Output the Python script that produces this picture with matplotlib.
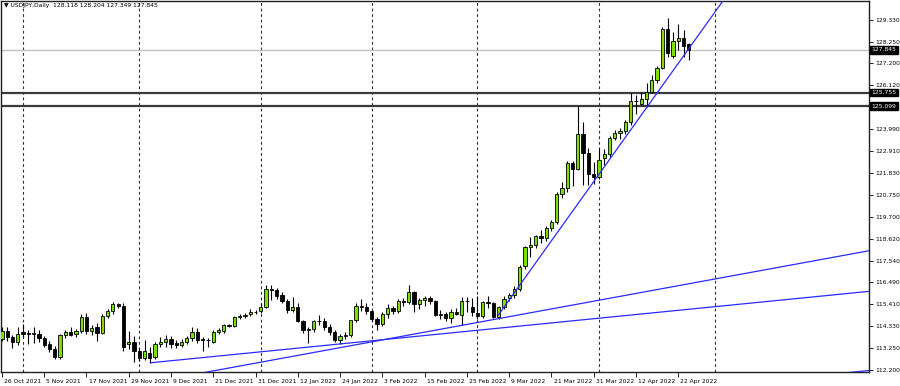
#importing libraries
import numpy as np
import matplotlib
matplotlib.use("Agg")
from matplotlib import pyplot as plt
from matplotlib import transforms

# ---- data : USDJPY daily bars (bar index 0 = 26 Oct 2021)
opens = [113.70, 114.10, 113.80, 113.55, 114.05, 114.00, 113.95, 113.95, 113.75, 113.45,
         113.20, 112.85, 113.90, 114.05, 113.95, 114.10, 114.80, 114.10, 114.30, 114.00,
         114.85, 115.10, 115.40, 115.35, 113.45, 113.55, 113.15, 112.80, 113.05, 112.85,
         113.45, 113.55, 113.70, 113.50, 113.40, 113.55, 113.75, 114.05, 113.70, 113.65,
         113.55, 114.05, 114.10, 114.40, 114.35, 114.80, 114.85, 114.95, 115.05, 115.10,
         115.30, 116.15, 116.10, 115.85, 115.55, 115.15, 115.30, 114.60, 114.15, 114.20,
         114.60, 114.60, 114.30, 114.05, 113.65, 113.85, 113.90, 114.65, 115.35, 115.30,
         115.10, 114.70, 114.45, 114.95, 115.25, 115.10, 115.55, 115.50, 116.00, 115.40,
         115.60, 115.70, 115.55, 114.90, 114.95, 114.75, 115.05, 114.90, 115.55, 115.30,
         115.00, 114.85, 115.50, 115.45, 114.80, 115.30, 115.70, 115.85, 116.15, 117.30,
         118.20, 118.30, 118.75, 118.65, 119.15, 119.45, 120.80, 121.10, 122.30, 122.00,
         123.75, 122.80, 121.80, 121.65, 122.55, 122.75, 123.55, 123.80, 123.90, 124.30,
         125.35, 125.20, 125.45, 125.80, 126.35, 126.95, 128.85, 127.55, 128.30, 128.45,
         128.118]
highs = [114.30, 114.30, 113.90, 114.30, 114.45, 114.15, 114.30, 114.15, 113.85, 113.60,
         113.35, 113.95, 114.15, 114.30, 114.20, 114.95, 115.00, 114.40, 114.50, 114.95,
         115.20, 115.50, 115.45, 115.45, 114.10, 113.85, 113.25, 113.65, 113.30, 113.55,
         113.80, 113.90, 113.85, 113.65, 113.70, 113.85, 114.30, 114.25, 113.80, 113.75,
         114.15, 114.25, 114.45, 114.45, 114.85, 114.95, 115.00, 115.20, 115.15, 115.45,
         116.35, 116.35, 116.20, 116.00, 115.65, 115.75, 115.45, 114.65, 114.30, 114.65,
         114.90, 114.75, 114.45, 114.15, 113.95, 114.05, 114.65, 115.45, 115.65, 115.45,
         115.15, 114.80, 115.05, 115.40, 115.35, 115.65, 115.70, 116.35, 116.05, 115.70,
         115.80, 115.80, 115.60, 115.15, 115.05, 115.20, 115.25, 115.75, 115.75, 115.70,
         115.80, 115.55, 115.80, 115.50, 115.35, 115.80, 115.95, 116.30, 117.35, 118.25,
         118.70, 118.80, 119.05, 119.25, 119.55, 120.90, 121.40, 122.40, 122.40, 125.10,
         124.30, 123.05, 122.35, 123.05, 123.00, 123.65, 123.95, 124.05, 124.40, 125.75,
         125.65, 125.80, 126.25, 126.60, 127.05, 128.95, 129.40, 128.70, 129.10, 128.80,
         128.204]
lows = [113.60, 113.60, 113.25, 113.40, 113.80, 113.45, 113.50, 113.55, 113.30, 113.10,
        112.75, 112.75, 113.75, 113.85, 113.80, 114.00, 113.95, 113.90, 113.60, 113.95,
        114.75, 114.95, 115.25, 113.15, 113.20, 112.60, 112.65, 112.70, 112.55, 112.75,
        113.30, 113.30, 113.25, 113.25, 113.30, 113.45, 113.60, 113.50, 113.15, 113.30,
        113.50, 113.95, 114.00, 114.30, 114.30, 114.70, 114.75, 114.85, 114.95, 115.00,
        115.25, 115.60, 115.65, 115.45, 115.00, 115.05, 114.55, 114.00, 113.50, 114.05,
        114.40, 114.15, 113.90, 113.55, 113.45, 113.70, 113.80, 114.55, 115.10, 114.95,
        114.60, 114.15, 114.35, 114.75, 114.95, 115.00, 115.35, 115.40, 115.05, 115.20,
        115.35, 115.40, 114.85, 114.70, 114.60, 114.50, 114.90, 114.40, 115.05, 114.85,
        114.70, 114.75, 115.25, 114.75, 114.70, 115.20, 115.55, 115.70, 116.05, 117.15,
        117.70, 118.15, 118.40, 118.50, 119.00, 119.35, 120.60, 120.90, 121.20, 121.95,
        121.25, 121.25, 121.30, 121.55, 122.20, 122.60, 123.45, 123.50, 123.75, 124.15,
        124.70, 125.15, 125.05, 125.75, 126.25, 126.90, 127.50, 127.45, 127.85, 127.50,
        127.349]
closes = [114.10, 113.80, 113.55, 113.95, 113.95, 113.95, 114.00, 113.75, 113.40, 113.20,
          112.85, 113.90, 114.05, 113.90, 114.10, 114.80, 114.10, 114.25, 114.00, 114.85,
          115.10, 115.40, 115.35, 113.30, 113.55, 113.15, 112.80, 113.15, 112.80, 113.45,
          113.55, 113.70, 113.45, 113.40, 113.55, 113.75, 114.05, 113.65, 113.65, 113.65,
          114.05, 114.15, 114.40, 114.35, 114.80, 114.85, 114.90, 115.05, 115.05, 115.30,
          116.15, 116.10, 115.80, 115.55, 115.15, 115.30, 114.60, 114.15, 114.20, 114.60,
          114.60, 114.30, 114.05, 113.65, 113.85, 113.90, 114.65, 115.35, 115.30, 115.10,
          114.70, 114.45, 114.95, 115.25, 115.10, 115.55, 115.50, 116.00, 115.40, 115.60,
          115.70, 115.55, 114.90, 114.95, 114.75, 115.05, 114.95, 115.55, 115.55, 115.05,
          114.85, 115.50, 115.45, 114.80, 115.30, 115.65, 115.85, 116.15, 117.25, 118.20,
          118.30, 118.75, 118.65, 119.15, 119.45, 120.80, 121.10, 122.30, 122.00, 123.75,
          122.80, 121.80, 121.65, 122.45, 122.75, 123.55, 123.80, 123.90, 124.30, 125.35,
          125.35, 125.45, 125.80, 126.35, 126.95, 128.85, 127.70, 128.30, 128.45, 128.05,
          127.845]

# date labels on the time axis (every 8 bars) and first bar of each month
date_labels = ["26 Oct 2021", "5 Nov 2021", "17 Nov 2021", "29 Nov 2021", "9 Dec 2021",
               "21 Dec 2021", "31 Dec 2021", "12 Jan 2022", "24 Jan 2022", "3 Feb 2022",
               "15 Feb 2022", "25 Feb 2022", "9 Mar 2022", "21 Mar 2022", "31 Mar 2022",
               "12 Apr 2022", "22 Apr 2022"]
date_label_idx = [0, 8, 16, 24, 32, 40, 48, 56, 64, 72, 80, 88, 96, 104, 112, 120, 128]
month_start_idx = [4, 26, 49, 70, 90, 113, 135]

# price scale labels
price_ticks = [129.330, 128.250, 127.200, 126.120, 123.990, 122.910, 121.830, 120.750,
               119.700, 118.620, 117.540, 116.490, 115.410, 114.330, 113.250, 112.200]

# horizontal levels and current bid
levels = [125.755, 125.099]
last_price = 127.845

# trendlines : two anchor points (bar index, price) each, extended to the right
trend_rise = [(94, 114.90), (122.2, 125.09)]
trend_mid = [(28.1, 112.55), (150.0, 115.68)]
trend_low = [(64.0, 113.29), (120.0, 115.94)]
trend_chan = [(28.1, 108.68), (150.0, 111.81)]

bull_color = "#7be000"
line_blue = "#2a2aff"

# ---- figure
fig = plt.figure(figsize=(9, 3.86), dpi=100)
ax = fig.add_axes([1 / 900, 14 / 386, 868 / 900, 371 / 386])

x = np.arange(len(opens))
o = np.array(opens)
c = np.array(closes)
h = np.array(highs)
l = np.array(lows)

# wicks first, then bodies on top
ax.vlines(x, l, h, color="black", linewidth=0.8, zorder=3)
body_bottom = np.minimum(o, c)
body_height = np.abs(c - o)
colors = [bull_color if cc >= oo else "black" for oo, cc in zip(o, c)]
ax.bar(x, body_height, bottom=body_bottom, width=0.62, color=colors,
       edgecolor="black", linewidth=0.6, zorder=4)

# period separators (monthly), dashed
for m in month_start_idx:
    ax.axvline(m, color="#303030", linestyle=(0, (2.5, 2.5)), linewidth=0.8, zorder=1)

# current bid line + support/resistance levels
ax.axhline(last_price, color="#c0c0c0", linewidth=1.0, zorder=1)
for lv in levels:
    ax.axhline(lv, color="#3a3a3a", linewidth=1.6, zorder=2)

# trendlines as rays to the right
x_end = 200
for pts, start_at_anchor in [(trend_rise, True), (trend_mid, True), (trend_low, False), (trend_chan, False)]:
    (x1, y1), (x2, y2) = pts
    slope = (y2 - y1) / (x2 - x1)
    xs = x1 if start_at_anchor else -10
    ax.plot([xs, x_end], [y1 + slope * (xs - x1), y1 + slope * (x_end - x1)],
            color=line_blue, linewidth=0.9, zorder=5)

ax.set_xlim(-0.17, 164.1)
ax.set_ylim(112.10, 130.235)

# price axis on the right
ax.yaxis.tick_right()
ax.set_yticks(price_ticks)
ax.set_yticklabels(["%.3f" % p for p in price_ticks])
ax.tick_params(axis="y", direction="out", length=3, width=0.6, pad=1.5,
               labelsize=4.3, colors="black")

# time axis
ax.set_xticks(date_label_idx)
ax.set_xticklabels(date_labels)
ax.tick_params(axis="x", direction="out", length=3.5, width=0.6, pad=1.5,
               labelsize=4.3, colors="black")
offset = transforms.ScaledTranslation(1.5 / 72, 0, fig.dpi_scale_trans)
for lab in ax.get_xticklabels():
    lab.set_horizontalalignment("left")
    lab.set_transform(lab.get_transform() + offset)

for sp in ax.spines.values():
    sp.set_color("#202020")
    sp.set_linewidth(1.0)

# price boxes on the axis
trans = transforms.blended_transform_factory(ax.transAxes, ax.transData)
for val in [last_price] + levels:
    ax.text(1.003, val, "%.3f" % val, transform=trans, ha="left", va="center",
            fontsize=4.3, color="white", clip_on=False, zorder=10,
            bbox=dict(boxstyle="square,pad=0.2", fc="black", ec="black"))

# symbol header
ax.text(0.004, 0.995, "\u25bc USDJPY,Daily  128.118 128.204 127.349 127.845",
        transform=ax.transAxes, ha="left", va="top", fontsize=4.3, color="black")

plt.savefig("out.png", dpi=100)
